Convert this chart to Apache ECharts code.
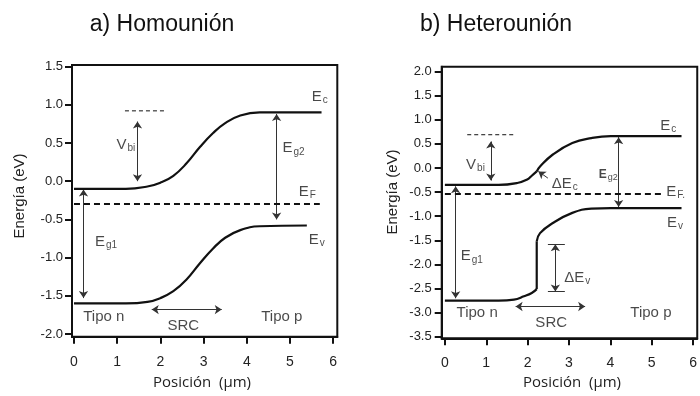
<!DOCTYPE html>
<html><head><meta charset="utf-8">
<script src="https://cdn.jsdelivr.net/npm/echarts@6.0.0/dist/echarts.min.js"></script>
<style>html,body{margin:0;padding:0;background:#fff}#c{width:700px;height:396px}</style>
</head><body><div id="c"></div>
<script>
// ---------- data ----------
const titles = ['a) Homounión', 'b) Heterounión'];
const xTicks = [0, 1, 2, 3, 4, 5, 6];
const yTicksA = [-2, -1.5, -1, -0.5, 0, 0.5, 1, 1.5];
const yTicksB = [-3.5, -3, -2.5, -2, -1.5, -1, -0.5, 0, 0.5, 1, 1.5, 2];
const xName = 'Posición  (µm)';
const yName = 'Energía (eV)';

// a) homojunction bands
const ecA = [[0,-0.1],[1.2,-0.1],[1.7,-0.07],[2.0,-0.02],[2.3,0.07],[2.6,0.23],[2.92,0.45],[3.22,0.63],[3.5,0.76],[3.85,0.86],[4.3,0.9],[5.73,0.9]];
const evA = [[0,-1.6],[1.2,-1.6],[1.7,-1.58],[2.0,-1.53],[2.3,-1.44],[2.6,-1.29],[2.92,-1.07],[3.22,-0.88],[3.5,-0.74],[3.85,-0.64],[4.3,-0.59],[5.39,-0.58]];
const efA = [[0,-0.3],[5.69,-0.3]];
const vbiRefA = [[1.18,0.92],[2.15,0.92]];
const arrowsA = [ [[1.47,0.78],[1.47,0.0]], [[4.69,0.88],[4.69,-0.5]], [[0.22,-0.11],[0.22,-1.53]], [[1.8,-1.68],[3.42,-1.68]] ];
const labelsA = ['{m|E}{s|c}','{m|E}{s|F}','{m|E}{s|v}','{m|V}{s|bi}','{m|E}{s|g2}','{m|E}{s|g1}','{m|Tipo n}','{m|SRC}','{m|Tipo p}'];
const labelPosA = [[5.69,1.1],[5.4,-0.14],[5.62,-0.77],[1.2,0.47],[5.08,0.43],[0.74,-0.79],[0.69,-1.78],[2.53,-1.89],[4.81,-1.78]];

// b) heterojunction bands
const ecB1 = [[0,-0.35],[1.3,-0.35],[1.75,-0.31],[1.99,-0.24],[2.1,-0.16],[2.22,-0.07]];
const ecB2 = [[2.22,-0.07],[2.3,0.03],[2.61,0.28],[3.08,0.52],[3.54,0.62],[4.01,0.66],[5.72,0.66]];
const evB1 = [[0,-2.75],[1.3,-2.75],[1.67,-2.73],[1.91,-2.66],[2.1,-2.59],[2.22,-2.51]];
const evBStep = [[2.22,-2.51],[2.22,-1.52]];
const evB2 = [[2.22,-1.52],[2.3,-1.35],[2.61,-1.14],[3.08,-0.93],[3.54,-0.84],[4.01,-0.83],[5.72,-0.83]];
const efB = [[0,-0.54],[5.25,-0.54]];
const vbiRefB = [[0.54,0.69],[1.67,0.69]];
const arrowsB = [ [[1.11,0.55],[1.11,-0.26]], [[4.2,0.64],[4.2,-0.81]], [[0.26,-0.38],[0.26,-2.7]], [[1.71,-2.87],[3.39,-2.87]], [[2.67,-1.58],[2.67,-2.56]] ];
const capsB = [ [[2.49,-1.58],[2.9,-1.58]], [[2.49,-2.56],[2.9,-2.56]] ];
const pointerB = [ [[2.49,-0.21],[2.26,-0.07]] ];
const labelsB = ['{m|E}{s|c}','{m|E}{s|F.}','{m|E}{s|v}','{m|V}{s|bi}','{k|E}{ks|g2}','{m|E}{s|g1}','{m|ΔE}{s|v}','{m|ΔE}{s|c}','{m|Tipo n}','{m|SRC}','{m|Tipo p}'];
const labelPosB = [[5.4,0.88],[5.58,-0.49],[5.56,-1.14],[0.74,0.07],[3.95,-0.14],[0.65,-1.83],[3.2,-2.28],[2.9,-0.33],[0.78,-3.0],[2.57,-3.22],[4.98,-3.0]];

// ---------- chart ----------
const FONT = 'Liberation Sans, Arial, sans-serif';
const INK = '#111';
const rich = {
  m: {fontSize: 15, fontFamily: FONT, color: '#1a1a1a', lineHeight: 17},
  s: {fontSize: 10, fontFamily: FONT, color: '#1a1a1a', padding: [7, 0, 0, 1], lineHeight: 10},
  k: {fontSize: 12, fontFamily: FONT, color: '#1a1a1a', fontWeight: 'bold', lineHeight: 14},
  ks: {fontSize: 9, fontFamily: FONT, color: '#1a1a1a', padding: [5, 0, 0, 1], lineHeight: 9}
};

function xAxisCfg(gi, min, max) {
  return {
    gridIndex: gi, type: 'value', min: min, max: max,
    axisLine: {show: true, onZero: false, lineStyle: {color: INK, width: 2}},
    axisTick: {show: true, inside: false, length: 7, customValues: xTicks, lineStyle: {color: INK, width: 2}},
    axisLabel: {customValues: xTicks, margin: 18, fontSize: 14, fontFamily: FONT, color: '#222'},
    splitLine: {show: false}
  };
}
function yAxisCfg(gi, min, max, ticks, margin) {
  return {
    gridIndex: gi, type: 'value', min: min, max: max,
    axisLine: {show: true, onZero: false, lineStyle: {color: INK, width: 2}},
    axisTick: {show: true, inside: false, length: 7, customValues: ticks, lineStyle: {color: INK, width: 2}},
    axisLabel: {customValues: ticks, margin: margin, fontSize: 13, fontFamily: FONT, color: '#222',
      formatter: v => (Math.abs(v) < 1e-9 ? 0 : v).toFixed(1)},
    splitLine: {show: false}
  };
}
function band(data, gi, dashed, width, smooth) {
  return {
    type: 'line', xAxisIndex: gi, yAxisIndex: gi, data: data, showSymbol: false, symbol: 'none',
    smooth: smooth ? 0.45 : false, silent: true, clip: false,
    lineStyle: {color: INK, width: width, type: dashed || 'solid'}
  };
}
function arrows(list, gi, sym) {
  return {
    type: 'lines', coordinateSystem: 'cartesian2d', xAxisIndex: gi, yAxisIndex: gi, silent: true,
    symbol: sym, symbolSize: 7,
    lineStyle: {color: '#333', width: 1, opacity: 1},
    data: list.map(c => ({coords: c}))
  };
}
function labels(texts, pos, gi) {
  return {
    type: 'scatter', xAxisIndex: gi, yAxisIndex: gi, symbolSize: 0, silent: true,
    data: pos.map((p, i) => ({value: p, label: {formatter: texts[i]}})),
    label: {show: true, position: 'inside', rich: rich}
  };
}

const chart = echarts.init(document.getElementById('c'), null, {renderer: 'canvas'});
chart.setOption({
  animation: false,
  backgroundColor: '#fff',
  grid: [
    {left: 72, top: 65, width: 265.3, height: 271.7, show: true, borderColor: INK, borderWidth: 2, containLabel: false},
    {left: 441.7, top: 66.7, right: -6, height: 271.6, show: true, borderColor: INK, borderWidth: 2, containLabel: false}
  ],
  xAxis: [xAxisCfg(0, -0.046, 6.095), xAxisCfg(1, -0.077, 6.1)],
  yAxis: [yAxisCfg(0, -2.035, 1.52, yTicksA, 9), yAxisCfg(1, -3.53, 2.10, yTicksB, 10)],
  graphic: [
    {type: 'text', x: 162, y: 25, style: {text: titles[0], textAlign: 'center', textVerticalAlign: 'middle', fontSize: 23, fontFamily: FONT, fill: '#111'}},
    {type: 'text', x: 496, y: 25, style: {text: titles[1], textAlign: 'center', textVerticalAlign: 'middle', fontSize: 23, fontFamily: FONT, fill: '#111'}},
    {type: 'text', x: 20, y: 196, rotation: Math.PI / 2, style: {text: yName, textAlign: 'center', textVerticalAlign: 'middle', fontSize: 15, fontFamily: FONT, fill: '#222'}},
    {type: 'text', x: 393, y: 192, rotation: Math.PI / 2, style: {text: yName, textAlign: 'center', textVerticalAlign: 'middle', fontSize: 15, fontFamily: FONT, fill: '#222'}},
    {type: 'text', x: 202, y: 383, style: {text: xName, textAlign: 'center', textVerticalAlign: 'middle', fontSize: 15, fontFamily: 'Open Sans, sans-serif', fill: '#222'}},
    {type: 'text', x: 572, y: 383, style: {text: xName, textAlign: 'center', textVerticalAlign: 'middle', fontSize: 15, fontFamily: 'Open Sans, sans-serif', fill: '#222'}}
  ],
  series: [
    band(ecA, 0, null, 2.2, true),
    band(evA, 0, null, 2.2, true),
    band(efA, 0, [6, 4], 2, false),
    band(vbiRefA, 0, [4, 3], 1, false),
    arrows(arrowsA, 0, ['arrow', 'arrow']),
    labels(labelsA, labelPosA, 0),

    band(ecB1, 1, null, 2.2, true),
    band(ecB2, 1, null, 2.2, true),
    band(evB1, 1, null, 2.2, true),
    band(evBStep, 1, null, 2.2, false),
    band(evB2, 1, null, 2.2, true),
    band(efB, 1, [6, 4], 2, false),
    band(vbiRefB, 1, [4, 3], 1, false),
    arrows(arrowsB, 1, ['arrow', 'arrow']),
    arrows(capsB, 1, ['none', 'none']),
    arrows(pointerB, 1, ['none', 'arrow']),
    labels(labelsB, labelPosB, 1)
  ]
});
</script></body></html>
